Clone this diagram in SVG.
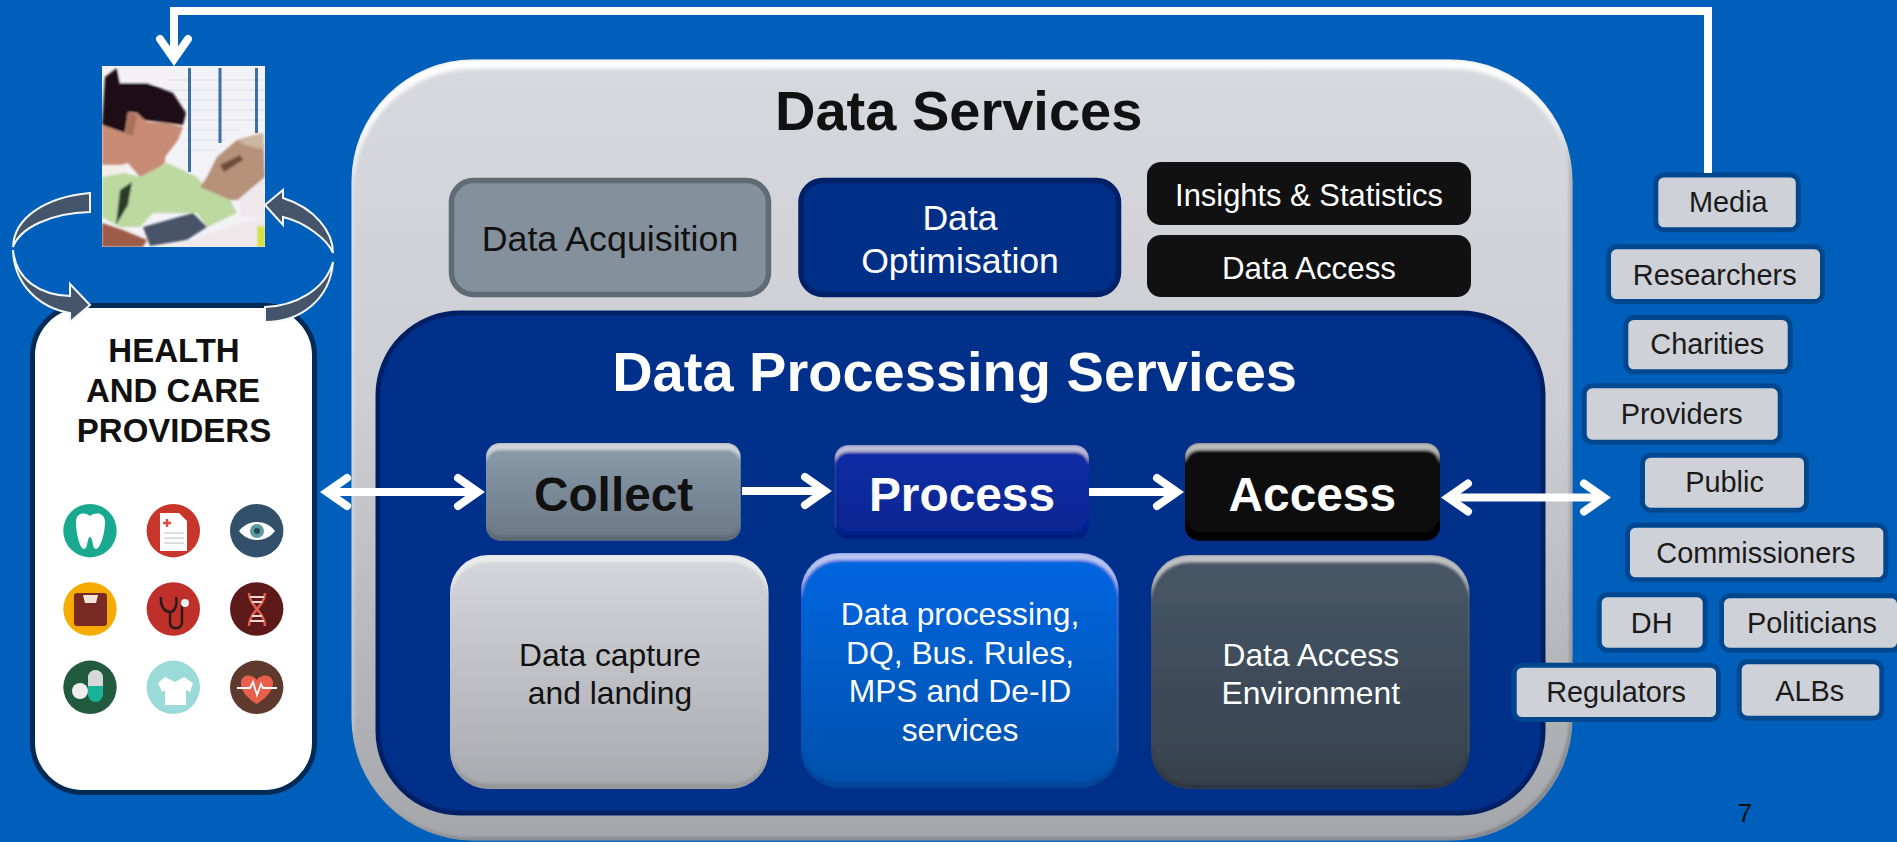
<svg xmlns="http://www.w3.org/2000/svg" width="1897" height="842" viewBox="0 0 1897 842">
<style>
text{font-family:"Liberation Sans",Arial,sans-serif;text-anchor:middle}
.b{font-weight:bold}
.k{fill:#111}
.w{fill:#fff}
.t{font-size:31.8px}
.big{font-size:47.8px;font-weight:bold}
.s rect{fill:#ced1d7;stroke:#00478f;stroke-width:5}
.s text{font-size:28.9px;fill:#1a1a1a}
.con{fill:none;stroke:#fff;stroke-width:8}
.cur{fill:#44546a;stroke:#f4f6f8;stroke-width:2}
.ic{fill:#fff}
</style>
<defs>
<marker id="arr" markerUnits="userSpaceOnUse" viewBox="-24 -20 44 40" refX="0" refY="0" markerWidth="44" markerHeight="40" orient="auto-start-reverse">
<path d="M-19,-14 L1,0 L-19,14" fill="none" stroke="#fff" stroke-width="8" stroke-linecap="round" stroke-miterlimit="6"/>
</marker>
<filter id="bevel" x="-5%" y="-5%" width="110%" height="110%">
<feOffset in="SourceAlpha" dy="7" result="d"/>
<feComposite in="SourceAlpha" in2="d" operator="out" result="t0"/>
<feGaussianBlur in="t0" stdDeviation="1.800" result="t1"/>
<feComposite in="t1" in2="SourceAlpha" operator="in" result="topEdge"/>
<feFlood flood-color="#fff" flood-opacity=".5"/>
<feComposite in2="topEdge" operator="in" result="hi"/>
<feOffset in="SourceAlpha" dy="-5" result="u"/>
<feComposite in="SourceAlpha" in2="u" operator="out" result="b0"/>
<feGaussianBlur in="b0" stdDeviation="1.800" result="b1"/>
<feComposite in="b1" in2="SourceAlpha" operator="in" result="botEdge"/>
<feFlood flood-color="#000" flood-opacity=".28"/>
<feComposite in2="botEdge" operator="in" result="lo"/>
<feMerge><feMergeNode in="SourceGraphic"/><feMergeNode in="hi"/><feMergeNode in="lo"/></feMerge>
</filter>
<filter id="outerBevel" x="-3%" y="-3%" width="106%" height="106%">
<feOffset in="SourceAlpha" dy="9" dx="1" result="d"/>
<feComposite in="SourceAlpha" in2="d" operator="out" result="t0"/>
<feGaussianBlur in="t0" stdDeviation="2" result="t1"/>
<feComposite in="t1" in2="SourceAlpha" operator="in" result="topEdge"/>
<feFlood flood-color="#fff"/>
<feComposite in2="topEdge" operator="in" result="hi"/>
<feOffset in="SourceAlpha" dx="-3" dy="-3" result="u"/>
<feComposite in="SourceAlpha" in2="u" operator="out" result="b0"/>
<feGaussianBlur in="b0" stdDeviation="1.500" result="b1"/>
<feComposite in="b1" in2="SourceAlpha" operator="in" result="botEdge"/>
<feFlood flood-color="#000" flood-opacity=".45"/>
<feComposite in2="botEdge" operator="in" result="lo"/>
<feMerge><feMergeNode in="SourceGraphic"/><feMergeNode in="lo"/><feMergeNode in="hi"/></feMerge>
</filter>
<filter id="soft"><feGaussianBlur stdDeviation="0.800"/></filter>
<linearGradient id="gOuter" x1="0" y1="0" x2="0" y2="1"><stop offset="0" stop-color="#d7d9de"/><stop offset=".45" stop-color="#ccced3"/><stop offset="1" stop-color="#a4a6aa"/></linearGradient>
<linearGradient id="gCollect" x1="0" y1="0" x2="0" y2="1"><stop offset="0" stop-color="#8a9cab"/><stop offset="1" stop-color="#6b7885"/></linearGradient>
<linearGradient id="gProcess" x1="0" y1="0" x2="0" y2="1"><stop offset="0" stop-color="#0a2ca6"/><stop offset="1" stop-color="#0a2690"/></linearGradient>
<linearGradient id="gCapture" x1="0" y1="0" x2="0" y2="1"><stop offset="0" stop-color="#d5d7dc"/><stop offset="1" stop-color="#a8aaae"/></linearGradient>
<linearGradient id="gBlue" x1="0" y1="0" x2="0" y2="1"><stop offset="0" stop-color="#0667e2"/><stop offset="1" stop-color="#0550aa"/></linearGradient>
<linearGradient id="gDark" x1="0" y1="0" x2="0" y2="1"><stop offset="0" stop-color="#475767"/><stop offset="1" stop-color="#37414d"/></linearGradient>
<clipPath id="photoClip"><rect x="102" y="66" width="163" height="181"/></clipPath>
</defs>

<rect width="1897" height="842" fill="#005fba"/>

<g id="data-services">
<rect x="351.500" y="59.500" width="1221" height="781" rx="122" ry="122" fill="url(#gOuter)" filter="url(#outerBevel)"/>
<text x="958.700" y="129.500" class="b k" font-size="56">Data Services</text>
</g>
<g id="data-acquisition">
<rect x="451.500" y="180.500" width="317" height="114" rx="22" fill="#84909c" stroke="#5f6b75" stroke-width="5.500"/>
<text x="610" y="251" class="k" font-size="35.800">Data Acquisition</text>
</g>
<g id="data-optimisation">
<rect x="801" y="180.500" width="317.500" height="114" rx="22" fill="#002f88" stroke="#002068" stroke-width="5.500"/>
<text x="960" y="229.500" class="w" font-size="35.600">Data</text>
<text x="960" y="272.700" class="w" font-size="35.600">Optimisation</text>
</g>
<g id="insights-statistics">
<rect x="1147" y="162" width="324" height="63" rx="14" fill="#111"/>
<text x="1309" y="206" class="w" font-size="30.900">Insights &amp; Statistics</text>
</g>
<g id="data-access">
<rect x="1147" y="235" width="324" height="62" rx="14" fill="#111"/>
<text x="1309" y="278.500" class="w" font-size="31.300">Data Access</text>
</g>
<g id="data-processing-services">
<rect x="378" y="313" width="1165" height="500" rx="82" fill="#00308a" stroke="#002066" stroke-width="5"/>
<text x="954.600" y="391" class="b w" font-size="56">Data Processing Services</text>
</g>
<g id="collect">
<rect x="486" y="443" width="254.700" height="97.700" rx="14" fill="url(#gCollect)" filter="url(#bevel)"/>
<text x="613.600" y="510.700" class="big k">Collect</text>
</g>
<g id="process">
<rect x="834.500" y="445" width="254.500" height="94" rx="14" fill="url(#gProcess)" filter="url(#bevel)"/>
<text x="962" y="510.700" class="big w">Process</text>
</g>
<g id="access">
<rect x="1185" y="443" width="255" height="97.700" rx="14" fill="#111" filter="url(#bevel)"/>
<text x="1312.300" y="510.700" class="big w">Access</text>
</g>
<g id="data-capture">
<rect x="450" y="555" width="318.600" height="234" rx="38" fill="url(#gCapture)" filter="url(#bevel)"/>
<text x="610" y="666" class="t k">Data capture</text>
<text x="610" y="704" class="t k">and landing</text>
</g>
<g id="data-processing">
<rect x="801" y="553" width="317.700" height="234.700" rx="38" fill="url(#gBlue)" filter="url(#bevel)"/>
<text x="960" y="625" class="t w">Data processing,</text>
<text x="960" y="664" class="t w">DQ, Bus. Rules,</text>
<text x="960" y="702" class="t w">MPS and De-ID</text>
<text x="960" y="741" class="t w">services</text>
</g>
<g id="data-access-environment">
<rect x="1151" y="555" width="318.600" height="234" rx="38" fill="url(#gDark)" filter="url(#bevel)"/>
<text x="1310.800" y="666" class="t w">Data Access</text>
<text x="1310.800" y="704" class="t w">Environment</text>
</g>

<g id="patient-photo" clip-path="url(#photoClip)">
<rect x="102" y="66" width="163" height="181" fill="#f3f2f6"/>
<path d="M168,80H265M168,90H265M168,100H265M168,110H265M186,120H265M186,130H240M186,140H225M186,150H215" stroke="#dfe3ee" stroke-width="1.500"/>
<g fill="#3d6fa6"><rect x="188" y="68" width="3" height="104"/><rect x="218.500" y="68" width="3" height="75"/><rect x="255" y="68" width="3" height="65"/></g>
<g filter="url(#soft)">
<path d="M118,68H168V85L120,83Z" fill="#f4f0f4"/>
<path d="M105,77L117,68L120,83H147L173,93L186,113L183,125L167,123L143,120L137,113L128,112L125,133L102,125Z" fill="#1a1014"/>
<path d="M137,113L147,122L167,123L183,127L178,140L165,157L165,163L153,172L140,177L128,163L115,167L102,165V125L125,133L128,112Z" fill="#c88b74"/>
<path d="M128,112L137,116L133,136L126,134Z" fill="#a8705a"/>
<path d="M102,165H125L128,175L102,185Z" fill="#f2efea"/>
<path d="M102,177L125,173L140,177L167,163L197,177L207,190L230,200L237,213L207,227L197,213L153,213L140,227L120,227L102,217Z" fill="#bcd9a0"/>
<path d="M120,190L132,182L128,205L116,225Z" fill="#2a3a2a"/>
<path d="M207,177L217,157L237,140L263,133L265,177L238,200L230,200L200,187Z" fill="#b6927a"/>
<path d="M237,140L263,133L265,150L245,145Z" fill="#cdb6a2"/>
<path d="M220,165L240,155L243,160L224,172Z" fill="#6f4d3a"/>
<path d="M238,200L265,177V217L240,217Z" fill="#efe9ee"/>
<path d="M143,227L193,213L207,227L187,240L150,246Z" fill="#4a5268"/>
<path d="M170,247L240,223L265,217V247Z" fill="#efe8ea"/>
<path d="M102,223L123,230L147,240L143,247H102Z" fill="#9c5c48"/>
<rect x="257" y="226" width="8" height="21" fill="#d6e040"/>
</g>
</g>

<g id="health-and-care-providers">
<rect x="32.500" y="305.500" width="282" height="487" rx="50" fill="#fff" stroke="#012a55" stroke-width="5"/>
<text x="174" y="361.700" class="b k" font-size="33">HEALTH</text>
<text x="173" y="401.700" class="b k" font-size="33">AND CARE</text>
<text x="174" y="441.700" class="b k" font-size="33">PROVIDERS</text>
</g>

<g id="icon-tooth">
<circle cx="90" cy="530.700" r="26.700" fill="#19a98f"/>
<path d="M76,522C76,512 86,512 90,516C94,512 105,512 105,522C105,534 100,549 96,549C92,549 93,537 90,537C87,537 88,549 84,549C80,549 76,534 76,522Z" class="ic"/>
</g>
<g id="icon-document">
<circle cx="173.300" cy="530.700" r="26.700" fill="#c8352a"/>
<path d="M160,513H179L187,521V551H160Z" class="ic"/>
<path d="M164,533H184M164,538H184M164,543H184" stroke="#b9b9c4" stroke-width="1.200"/>
<path d="M167,519V527M163,523H171" stroke="#d8503f" stroke-width="2.500"/>
</g>
<g id="icon-eye">
<circle cx="256.700" cy="530.700" r="26.700" fill="#33506b"/>
<path d="M239,531C248,519 266,519 275,531C266,543 248,543 239,531Z" class="ic"/>
<circle cx="257" cy="531" r="7" fill="#5b9aa0"/>
<circle cx="257" cy="531" r="3" fill="#234a55"/>
</g>
<g id="icon-scale">
<circle cx="90" cy="609" r="26.700" fill="#f5ab00"/>
<rect x="74" y="593" width="33" height="33" rx="3" fill="#7a2a25"/>
<path d="M83,595H98L96,603H85Z" fill="#f0e6dc"/>
</g>
<g id="icon-stethoscope">
<circle cx="173.300" cy="609" r="26.700" fill="#c0302a"/>
<path d="M161,597C160,608 166,612 170,612M176,597C178,606 174,612 170,612V623C170,630 182,630 182,622V604" fill="none" stroke="#2b1a1a" stroke-width="2.500"/>
<circle cx="185" cy="603" r="4" fill="#eee"/>
</g>
<g id="icon-dna">
<circle cx="256.700" cy="609" r="26.700" fill="#5e1a18"/>
<path d="M249,593C249,606 265,612 265,626M265,593C265,606 249,612 249,626" fill="none" stroke="#e0604f" stroke-width="2.500"/>
<path d="M250,597H264M252,602H262M252,616H262M250,621H264" stroke="#f0d8d0" stroke-width="1.800"/>
</g>
<g id="icon-pills">
<circle cx="90" cy="687.300" r="26.700" fill="#215a3e"/>
<rect x="88" y="670" width="15" height="32" rx="7.500" fill="#19b398"/>
<path d="M88,686V677.500A7.500,7.500 0 0 1 103,677.500V686Z" fill="#d8d8d8"/>
<circle cx="80" cy="691" r="8" fill="#eee"/>
</g>
<g id="icon-shirt">
<circle cx="173.300" cy="687.300" r="26.700" fill="#9adbd9"/>
<path d="M165,677L158,683L162,692L165,690V705H186V690L190,692L193,683L184,677L175,682Z" class="ic"/>
</g>
<g id="icon-heart">
<circle cx="256.700" cy="687.300" r="26.700" fill="#5e3a2e"/>
<path d="M256.700,704C244,696 241,689 241,683C241,674 252,673 256.700,680C261,673 273,674 273,683C273,689 269,696 256.700,704Z" fill="#e8604c"/>
<path d="M237,688H250L253,682L257,695L261,684L263,688H277" fill="none" stroke="#fff" stroke-width="1.800"/>
</g>

<g id="media" class="s"><rect x="1655.800" y="175" width="142.500" height="54.800" rx="8"/><text x="1728.300" y="211.700">Media</text></g>
<g id="researchers" class="s"><rect x="1608.500" y="246.800" width="214" height="54.800" rx="8"/><text x="1714.700" y="285">Researchers</text></g>
<g id="charities" class="s"><rect x="1625.800" y="317.500" width="164.400" height="54.300" rx="8"/><text x="1707.300" y="354">Charities</text></g>
<g id="providers" class="s"><rect x="1584.200" y="385.800" width="196" height="56.400" rx="8"/><text x="1681.700" y="424">Providers</text></g>
<g id="public" class="s"><rect x="1642.500" y="455.200" width="164" height="55" rx="8"/><text x="1724.500" y="491.700">Public</text></g>
<g id="commissioners" class="s"><rect x="1627.500" y="525.200" width="258.300" height="54.600" rx="8"/><text x="1755.800" y="563.300">Commissioners</text></g>
<g id="dh" class="s"><rect x="1599.200" y="594.800" width="106" height="55.400" rx="8"/><text x="1651.700" y="632.700">DH</text></g>
<g id="politicians" class="s"><rect x="1721.500" y="595.800" width="178" height="54.400" rx="8"/><text x="1812" y="632.700">Politicians</text></g>
<g id="regulators" class="s"><rect x="1514.200" y="665.200" width="204.300" height="54.300" rx="8"/><text x="1616" y="701.700">Regulators</text></g>
<g id="albs" class="s"><rect x="1739.200" y="661.800" width="142.600" height="56.400" rx="8"/><text x="1809.700" y="701">ALBs</text></g>

<text id="page-number" x="1745" y="821.700" font-size="26" class="k">7</text>

<g id="connectors">
<path class="con" d="M328,492H477" marker-start="url(#arr)" marker-end="url(#arr)"/>
<path class="con" d="M742,491H824" marker-end="url(#arr)"/>
<path class="con" d="M1089,492H1176" marker-end="url(#arr)"/>
<path class="con" d="M1449,497.500H1603" marker-start="url(#arr)" marker-end="url(#arr)"/>
<path class="con" d="M1708,173V11H174V58" marker-end="url(#arr)"/>
<path class="cur" d="M90,193C45,197 14,218 13,247C20,228 50,213 90,212Z"/>
<path class="cur" d="M13,250C16,280 40,295 70,296L70,284L90,305L70,322L70,313C40,308 14,285 13,250Z"/>
<path class="cur" d="M265,205L283,190L283,198C315,208 333,232 333,253C328,240 305,222 283,217L283,225Z"/>
<path class="cur" d="M333,262C330,300 300,322 265,322L265,307C295,306 325,290 333,262Z"/>
</g>
</svg>
